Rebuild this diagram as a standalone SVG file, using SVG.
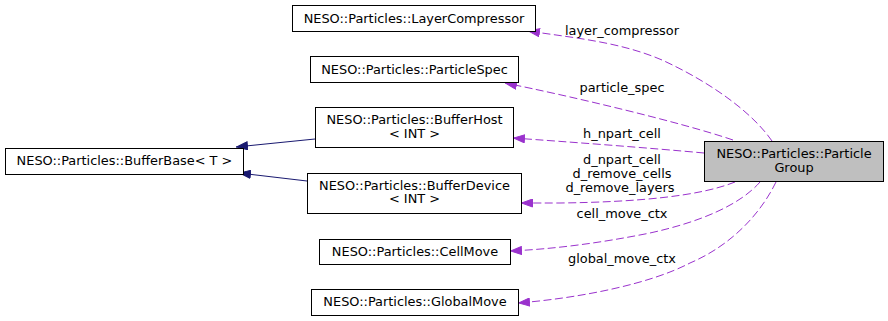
<svg xmlns="http://www.w3.org/2000/svg" width="888" height="321" viewBox="0 0 888 321">
  <style>
    .node rect { fill: #ffffff; stroke: #000000; stroke-width: 1; }
    .node.main rect { fill: #bfbfbf; }
    text { font-family: "DejaVu Sans", "Liberation Sans", sans-serif; font-size: 12.9px; fill: #000000; }
    .node text { text-anchor: middle; }
    .edge-label { text-anchor: middle; }
    .inherit { fill: none; stroke: #191970; stroke-width: 1; }
    .member { fill: none; stroke: #9a32cd; stroke-width: 1; stroke-dasharray: 8,3.5; }
  </style>
  <defs>
    <marker id="arrow-blue" markerUnits="userSpaceOnUse" markerWidth="12" markerHeight="9" viewBox="0 0 12 9" refX="12" refY="4.5" orient="auto">
      <path d="M0.5,0.5 L11.5,4.5 L0.5,8.5 z" fill="#191970" stroke="#191970"/>
    </marker>
    <marker id="arrow-purple" markerUnits="userSpaceOnUse" markerWidth="12" markerHeight="9" viewBox="0 0 12 9" refX="12" refY="4.5" orient="auto">
      <path d="M0.5,0.5 L11.5,4.5 L0.5,8.5 z" fill="#9a32cd" stroke="#9a32cd"/>
    </marker>
  </defs>
  <rect x="0" y="0" width="888" height="321" fill="#ffffff"/>

  <g id="connectors">
    <!-- inheritance -->
    <path class="inherit" d="M315,139 L236,147" marker-end="url(#arrow-blue)"/>
    <path class="inherit" d="M307,181 L239,173" marker-end="url(#arrow-blue)"/>
    <!-- members -->
    <path class="member" d="M772,141 C752,112 710,82 662,60 C620,42 575,38 528,31" marker-end="url(#arrow-purple)"/>
    <text class="edge-label" x="622" y="34.5">layer_compressor</text>
    <path class="member" d="M733,140 C680,122 570,96 505,83" marker-end="url(#arrow-purple)"/>
    <text class="edge-label" x="622" y="91.5">particle_spec</text>
    <path class="member" d="M704,153 C650,148 570,142 513,138" marker-end="url(#arrow-purple)"/>
    <text class="edge-label" x="622" y="138">h_npart_cell</text>
    <path class="member" d="M735,182 C700,196 640,202 560,203 C545,203 532,203 521,203" marker-end="url(#arrow-purple)"/>
    <text class="edge-label" x="622" y="163.5">d_npart_cell</text>
    <text class="edge-label" x="622" y="177.5">d_remove_cells</text>
    <text class="edge-label" x="620" y="191.5">d_remove_layers</text>
    <path class="member" d="M760,182 C740,205 700,222 650,233 C600,243 555,249 510,251" marker-end="url(#arrow-purple)"/>
    <text class="edge-label" x="622" y="218">cell_move_ctx</text>
    <path class="member" d="M776,182 C760,215 730,246 690,263 C650,284 580,298 518,303" marker-end="url(#arrow-purple)"/>
    <text class="edge-label" x="622" y="262.5">global_move_ctx</text>
  </g>

  <g id="node-ParticleGroup" class="node main">
    <rect x="704.5" y="141.5" width="179" height="40"/>
    <text x="794" y="158">NESO::Particles::Particle</text>
    <text x="794" y="172">Group</text>
  </g>
  <g id="node-LayerCompressor" class="node">
    <rect x="292.5" y="5.5" width="243" height="26"/>
    <text x="414" y="22.5">NESO::Particles::LayerCompressor</text>
  </g>
  <g id="node-ParticleSpec" class="node">
    <rect x="310.5" y="56.5" width="208" height="26"/>
    <text x="414.5" y="73.5">NESO::Particles::ParticleSpec</text>
  </g>
  <g id="node-BufferHost" class="node">
    <rect x="315.5" y="107.5" width="198" height="40"/>
    <text x="414.5" y="124">NESO::Particles::BufferHost</text>
    <text x="414.5" y="138">&lt; INT &gt;</text>
  </g>
  <g id="node-BufferDevice" class="node">
    <rect x="307.5" y="173.5" width="214" height="40"/>
    <text x="414.5" y="189.5">NESO::Particles::BufferDevice</text>
    <text x="414.5" y="203">&lt; INT &gt;</text>
  </g>
  <g id="node-CellMove" class="node">
    <rect x="319.5" y="239.5" width="191" height="25"/>
    <text x="415" y="255.5">NESO::Particles::CellMove</text>
  </g>
  <g id="node-GlobalMove" class="node">
    <rect x="311.5" y="289.5" width="207" height="26"/>
    <text x="415" y="306">NESO::Particles::GlobalMove</text>
  </g>
  <g id="node-BufferBase" class="node">
    <rect x="5.5" y="148.5" width="238" height="26"/>
    <text x="124.5" y="164.5">NESO::Particles::BufferBase&lt; T &gt;</text>
  </g>
</svg>
